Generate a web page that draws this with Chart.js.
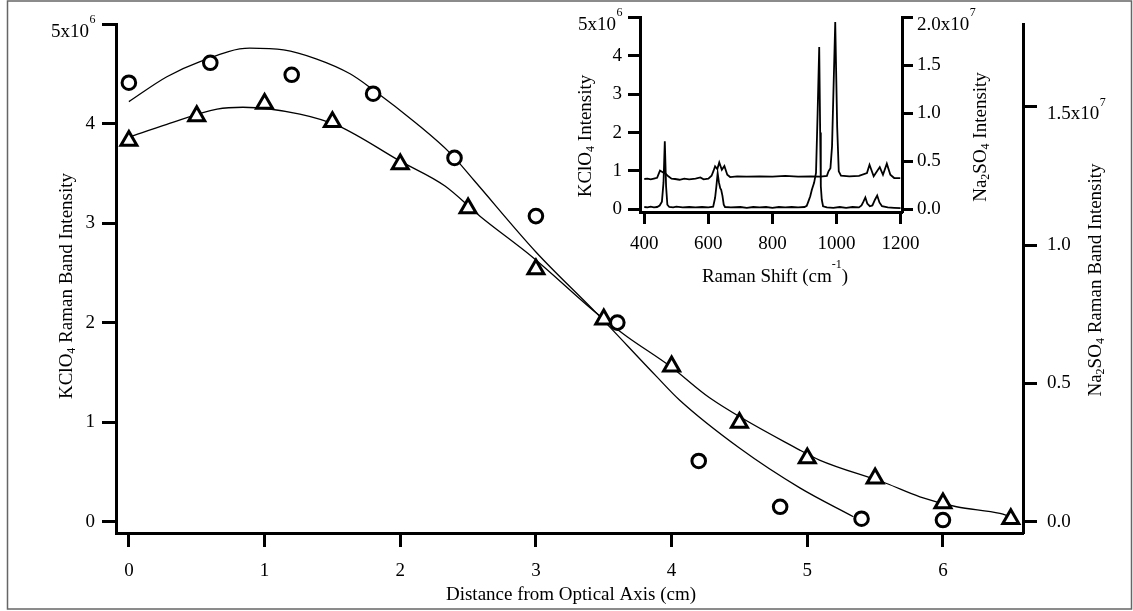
<!DOCTYPE html>
<html>
<head>
<meta charset="utf-8">
<script src="https://cdn.jsdelivr.net/npm/chart.js@4"></script>
<style>
  html, body { margin: 0; padding: 0; background: #fff; }
  #wrap { position: relative; width: 1133px; height: 611px; }
  #wrap canvas { position: absolute; left: 0; top: 0; }
</style>
</head>
<body>
<div id="wrap">
  <canvas id="main" width="1133" height="611"></canvas>
  <canvas id="inset" width="1133" height="611"></canvas>
</div>
<script>
// band intensity vs distance from the optical axis (cm)
const distCirc = [0, 0.6, 1.2, 1.8, 2.4, 3.0, 3.6, 4.2, 4.8, 5.4, 6.0]
const kclo4Band = [4.41e6, 4.61e6, 4.49e6, 4.30e6, 3.655e6, 3.07e6, 2.0e6, 0.61e6, 0.15e6, 0.03e6, 0.017e6]

const distTri = [0, 0.5, 1.0, 1.5, 2.0, 2.5, 3.0, 3.5, 4.0, 4.5, 5.0, 5.5, 6.0, 6.5]
const na2so4Band = [1.378e7, 1.467e7, 1.512e7, 1.446e7, 1.293e7, 1.134e7, 0.913e7, 0.732e7, 0.562e7, 0.358e7, 0.230e7, 0.157e7, 0.067e7, 0.010e7]

// fitted profiles
const fitCircX = [0, 0.28, 0.52, 0.89, 1.14, 1.38, 1.63, 1.8, 2.12, 2.37, 2.54, 3.0, 3.45, 3.89, 4.06, 4.5, 4.945, 5.34]
const fitCircY = [4.22e6, 4.47e6, 4.62e6, 4.757e6, 4.74e6, 4.65e6, 4.5e6, 4.34e6, 4.0e6, 3.70e6, 3.435e6, 2.71e6, 2.09e6, 1.457e6, 1.22e6, 0.74e6, 0.34e6, 0.05e6]

const fitTriX = [0, 0.28, 0.65, 0.84, 1.26, 1.55, 2.0, 2.33, 2.59, 2.98, 3.45, 3.67, 3.99, 4.28, 4.945, 5.09, 5.58, 5.83, 6.1, 6.42, 6.5]
const fitTriY = [1.391e7, 1.437e7, 1.492e7, 1.499e7, 1.474e7, 1.430e7, 1.304e7, 1.214e7, 1.104e7, 0.955e7, 0.753e7, 0.670e7, 0.562e7, 0.448e7, 0.259e7, 0.223e7, 0.139e7, 0.090e7, 0.054e7, 0.030e7, 0.018e7]

const distTicks = [0, 1, 2, 3, 4, 5, 6]
const kclo4Ticks = [0, 1e6, 2e6, 3e6, 4e6, 5e6]
const na2so4Ticks = [0, 0.5e7, 1.0e7, 1.5e7]

// raman spectra (inset)
const kclo4Shift = [400, 410, 420, 430, 440, 448, 455, 460, 464, 468, 472, 478, 490, 500, 520, 540, 560, 580, 600, 615, 621, 625, 629, 633, 637, 640, 644, 648, 652, 670, 700, 720, 740, 760, 780, 800, 820, 840, 860, 880, 900, 907, 912, 918, 923, 930, 936, 941, 946, 949, 951, 954, 958, 970, 990, 1010, 1030, 1050, 1070, 1078, 1084, 1090, 1096, 1104, 1112, 1120, 1127, 1134, 1142, 1160, 1180, 1200]
const kclo4Spec = [0.06e6, 0.05e6, 0.07e6, 0.05e6, 0.06e6, 0.10e6, 0.20e6, 0.7e6, 1.77e6, 0.6e6, 0.12e6, 0.06e6, 0.05e6, 0.07e6, 0.05e6, 0.06e6, 0.05e6, 0.06e6, 0.05e6, 0.07e6, 0.3e6, 0.6e6, 0.94e6, 0.7e6, 0.55e6, 0.51e6, 0.35e6, 0.12e6, 0.06e6, 0.05e6, 0.06e6, 0.04e6, 0.06e6, 0.05e6, 0.06e6, 0.04e6, 0.06e6, 0.05e6, 0.06e6, 0.05e6, 0.06e6, 0.09e6, 0.2e6, 0.34e6, 0.51e6, 0.69e6, 0.95e6, 2.5e6, 4.23e6, 2.0e6, 0.6e6, 0.25e6, 0.08e6, 0.05e6, 0.04e6, 0.06e6, 0.04e6, 0.06e6, 0.05e6, 0.1e6, 0.2e6, 0.31e6, 0.15e6, 0.08e6, 0.1e6, 0.25e6, 0.36e6, 0.18e6, 0.08e6, 0.05e6, 0.04e6, 0.03e6]

const na2so4Shift = [400, 410, 420, 430, 440, 449, 455, 459, 466, 475, 485, 496, 510, 525, 540, 560, 575, 585, 600, 610, 616, 621, 628, 634, 642, 650, 659, 668, 690, 720, 760, 800, 840, 880, 920, 950, 970, 975, 981, 986, 996, 1002, 1007, 1014, 1040, 1070, 1095, 1103, 1116, 1135, 1145, 1157, 1168, 1180, 1199]
const na2so4Spec = [0.316e7, 0.320e7, 0.312e7, 0.320e7, 0.328e7, 0.404e7, 0.392e7, 0.384e7, 0.372e7, 0.344e7, 0.320e7, 0.316e7, 0.308e7, 0.320e7, 0.312e7, 0.320e7, 0.332e7, 0.312e7, 0.320e7, 0.350e7, 0.40e7, 0.448e7, 0.420e7, 0.488e7, 0.412e7, 0.452e7, 0.360e7, 0.336e7, 0.344e7, 0.340e7, 0.344e7, 0.340e7, 0.348e7, 0.340e7, 0.344e7, 0.340e7, 0.348e7, 0.396e7, 0.428e7, 0.656e7, 1.952e7, 0.864e7, 0.396e7, 0.350e7, 0.344e7, 0.348e7, 0.378e7, 0.464e7, 0.344e7, 0.440e7, 0.360e7, 0.476e7, 0.360e7, 0.326e7, 0.326e7]

const shiftTicks = [400, 600, 800, 1000, 1200]
const kclo4SpecTicks = [0, 1e6, 2e6, 3e6, 4e6, 5e6]
const na2so4SpecTicks = [0, 0.5e7, 1.0e7, 1.5e7, 2.0e7]

const serif = "'Liberation Serif', 'Times New Roman', serif"
Chart.defaults.font.family = serif
Chart.defaults.font.size = 19
Chart.defaults.color = '#000'

const pairs = (xs, ys) => xs.map((x, i) => ({ x: x, y: ys[i] }))
const fixTicks = list => scale => { scale.ticks = list.map(v => ({ value: v })) }

// text with sub/superscripts, centred on (x, y)
function richText(ctx, parts, x, y, size, angle) {
  ctx.save()
  ctx.translate(x, y)
  ctx.rotate(angle || 0)
  ctx.fillStyle = '#000'
  ctx.textAlign = 'left'
  ctx.textBaseline = 'alphabetic'
  const small = Math.round(size * 0.63)
  const fontOf = k => (k ? small : size) + 'px ' + serif
  let total = 0
  parts.forEach(([t, k]) => { ctx.font = fontOf(k); total += ctx.measureText(t).width })
  let cx = -total / 2
  const base = size * 0.33
  parts.forEach(([t, k]) => {
    ctx.font = fontOf(k)
    const dy = k === 'sub' ? 3 : k === 'sup' ? -13.5 : 0
    ctx.fillText(t, cx, base + dy)
    cx += ctx.measureText(t).width
  })
  ctx.restore()
}

// mantissa + exponent tick label at the top of an axis
function expLabel(ctx, scale, value, mant, exp, side) {
  const tl = scale.options.grid.tickLength
  const pad = scale.options.ticks.padding
  const y = scale.getPixelForValue(value)
  ctx.save()
  ctx.fillStyle = '#000'
  ctx.textBaseline = 'alphabetic'
  ctx.font = '12px ' + serif
  const we = ctx.measureText(exp).width
  ctx.font = '19px ' + serif
  const wm = ctx.measureText(mant).width
  let x0
  if (side === 'left') x0 = scale.right - tl - pad - we - wm
  else x0 = scale.left + tl + pad
  ctx.textAlign = 'left'
  ctx.fillText(mant, x0, y + 12.5)
  ctx.font = '12px ' + serif
  ctx.fillText(exp, x0 + wm + 0.5, y - 1)
  ctx.restore()
}

const frame = {
  id: 'frame',
  beforeDraw(chart) {
    const ctx = chart.ctx
    ctx.save()
    ctx.fillStyle = '#fff'
    ctx.fillRect(0, 0, chart.width, chart.height)
    ctx.strokeStyle = '#666'
    ctx.lineWidth = 1.5
    ctx.strokeRect(7.5, 1, 1124, 608)
    ctx.restore()
  },
  afterDraw(chart) {
    const ctx = chart.ctx
    expLabel(ctx, chart.scales.y, 5e6, '5x10', '6', 'left')
    expLabel(ctx, chart.scales.y2, 1.5e7, '1.5x10', '7', 'right')
    richText(ctx, [['KClO', 0], ['4', 'sub'], [' Raman Band Intensity', 0]], 66, 286, 19, -Math.PI / 2)
    richText(ctx, [['Na', 0], ['2', 'sub'], ['SO', 0], ['4', 'sub'], [' Raman Band Intensity', 0]], 1095, 280, 19, -Math.PI / 2)
    richText(ctx, [['Distance from Optical Axis (cm)', 0]], 571, 594, 19, 0)
  }
}

const insetLabels = {
  id: 'insetLabels',
  afterDraw(chart) {
    const ctx = chart.ctx
    expLabel(ctx, chart.scales.y, 5e6, '5x10', '6', 'left')
    expLabel(ctx, chart.scales.y2, 2.0e7, '2.0x10', '7', 'right')
    richText(ctx, [['KClO', 0], ['4', 'sub'], [' Intensity', 0]], 585, 136, 19, -Math.PI / 2)
    richText(ctx, [['Na', 0], ['2', 'sub'], ['SO', 0], ['4', 'sub'], [' Intensity', 0]], 980, 137, 19, -Math.PI / 2)
    richText(ctx, [['Raman Shift (cm', 0], ['-1', 'sup'], [')', 0]], 775, 275.5, 19, 0)
  }
}

const axisLook = (tl, pad) => ({
  border: { display: true, color: '#000', width: 3 },
  grid: { drawOnChartArea: false, drawTicks: true, tickLength: tl, tickWidth: 3, tickColor: '#000' },
  ticks: { padding: pad, color: '#000', font: { size: 19, family: serif } }
})

new Chart(document.getElementById('main'), {
  type: 'scatter',
  data: {
    datasets: [
      { data: pairs(distCirc, kclo4Band), yAxisID: 'y', pointStyle: 'circle', pointRadius: 6.8, pointBorderWidth: 3, borderColor: '#000', backgroundColor: '#fff', order: 0 },
      { data: pairs(distTri, na2so4Band), yAxisID: 'y2', pointStyle: 'triangle', pointRadius: 9.2, pointBorderWidth: 3, borderColor: '#000', backgroundColor: '#fff', order: 0 },
      { data: pairs(fitCircX, fitCircY), yAxisID: 'y', showLine: true, pointRadius: 0, borderWidth: 1.3, borderColor: '#000', cubicInterpolationMode: 'monotone', order: 2 },
      { data: pairs(fitTriX, fitTriY), yAxisID: 'y2', showLine: true, pointRadius: 0, borderWidth: 1.3, borderColor: '#000', cubicInterpolationMode: 'monotone', order: 2 }
    ]
  },
  options: {
    responsive: false,
    animation: false,
    events: [],
    layout: { padding: { top: 24, left: 0, right: 0, bottom: 0 } },
    plugins: { legend: { display: false }, tooltip: { enabled: false } },
    scales: {
      x: Object.assign(axisLook(14, 13), {
        type: 'linear', min: -0.095, max: 6.59,
        afterBuildTicks: fixTicks(distTicks),
        afterFit: s => { s.height = 78 }
      }),
      y: Object.assign(axisLook(14, 7), {
        type: 'linear', position: 'left', min: -0.1135e6, max: 5e6,
        afterBuildTicks: fixTicks(kclo4Ticks),
        afterFit: s => { s.width = 116 }
      }),
      y2: Object.assign(axisLook(14, 10), {
        type: 'linear', position: 'right', min: -0.409e6, max: 1.8e7,
        afterBuildTicks: fixTicks(na2so4Ticks),
        afterFit: s => { s.width = 110 }
      })
    }
  },
  plugins: [frame]
})
const mainChart = Chart.getChart('main')
mainChart.options.scales.y.ticks.callback = v => v === 5e6 ? '' : String(v / 1e6)
mainChart.options.scales.y2.ticks.callback = v => v === 1.5e7 ? '' : (v / 1e7).toFixed(1)
mainChart.options.scales.x.ticks.callback = v => String(v)
mainChart.update()

new Chart(document.getElementById('inset'), {
  type: 'scatter',
  data: {
    datasets: [
      { data: pairs(kclo4Shift, kclo4Spec), yAxisID: 'y', showLine: true, pointRadius: 0, borderWidth: 1.8, borderColor: '#000' },
      { data: pairs(na2so4Shift, na2so4Spec), yAxisID: 'y2', showLine: true, pointRadius: 0, borderWidth: 1.8, borderColor: '#000' }
    ]
  },
  options: {
    responsive: false,
    animation: false,
    events: [],
    layout: { padding: { top: 17, left: 0, right: 0, bottom: 0 } },
    plugins: { legend: { display: false }, tooltip: { enabled: false } },
    scales: {
      x: Object.assign(axisLook(12, 9), {
        type: 'linear', min: 386.6, max: 1204.4,
        afterBuildTicks: fixTicks(shiftTicks),
        afterFit: s => { s.height = 399 }
      }),
      y: Object.assign(axisLook(12, 6), {
        type: 'linear', position: 'left', min: -0.07e6, max: 5e6,
        afterBuildTicks: fixTicks(kclo4SpecTicks),
        afterFit: s => { s.width = 640 }
      }),
      y2: Object.assign(axisLook(11, 4), {
        type: 'linear', position: 'right', min: -0.28e6, max: 2.0e7,
        afterBuildTicks: fixTicks(na2so4SpecTicks),
        afterFit: s => { s.width = 231 }
      })
    }
  },
  plugins: [insetLabels]
})
const insetChart = Chart.getChart('inset')
insetChart.options.scales.y.ticks.callback = v => v === 5e6 ? '' : String(v / 1e6)
insetChart.options.scales.y2.ticks.callback = v => v === 2.0e7 ? '' : (v / 1e7).toFixed(1)
insetChart.options.scales.x.ticks.callback = v => String(v)
insetChart.update()
</script>
</body>
</html>
